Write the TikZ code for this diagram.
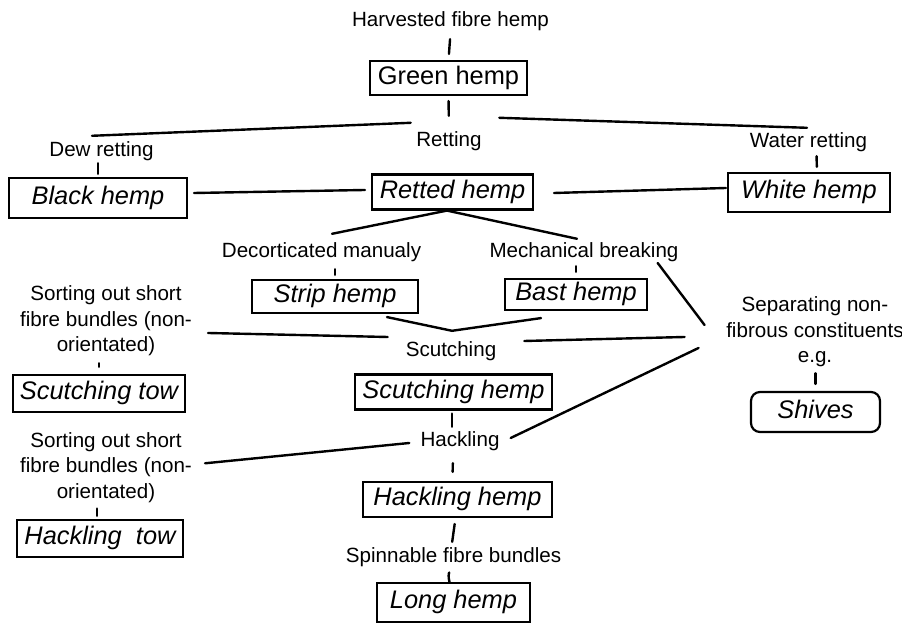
\documentclass[tikz,border=0pt]{standalone}
\usepackage{fontspec}
\setmainfont{Liberation Sans}
\begin{document}
\begin{tikzpicture}[x=0.5pt,y=-0.5pt, line width=1.2pt, line cap=round,
  lab/.style={inner sep=0pt, font=\fontsize{10.3pt}{12.75pt}\selectfont, text height=7.5pt, text depth=2.5pt, anchor=base},
  mlab/.style={inner sep=0pt, font=\fontsize{10.3pt}{12.75pt}\selectfont, align=center},
  hbox/.style={draw, line width=1.1pt, inner sep=0pt, font=\fontsize{12.7pt}{15pt}\selectfont\itshape, text height=9pt, text depth=2.5pt}]
\useasboundingbox (0,0) rectangle (902,624);
% labels
\node[lab] (harv) at (450.5,27) {Harvested fibre hemp};
\node[lab] (retting) at (449,147) {Retting};
\node[lab] (dew) at (101.5,157) {Dew retting};
\node[lab] (water) at (808.5,148) {Water retting};
\node[lab] (decort) at (321.5,258) {Decorticated manualy};
\node[lab] (mech) at (584,258) {Mechanical breaking};
\node[lab] (scutching) at (451,357) {Scutching};
\node[mlab] (sort1) at (106,321) {Sorting out short\\fibre bundles (non-\\orientated)};
\node[mlab] (sep) at (815,332) {Separating non-\\fibrous constituents\\e.g.};
\node[lab] (hackling) at (460,447) {Hackling};
\node[mlab] (sort2) at (106,467.3) {Sorting out short\\fibre bundles (non-\\orientated)};
\node[lab] (spin) at (453.5,563) {Spinnable fibre bundles};
% boxes
\node[hbox, font=\fontsize{12.7pt}{15pt}\selectfont, minimum width=78.5pt, minimum height=17pt] (green) at (448.5,78) {Green hemp};
\node[hbox, minimum width=89pt, minimum height=20pt] (black) at (98,198) {Black hemp};
\node[hbox, minimum width=80.5pt, minimum height=17.5pt] (retted) at (452.5,192) {Retted hemp};
\node[hbox, minimum width=81pt, minimum height=19.5pt] (white) at (809,192.5) {White hemp};
\node[hbox, minimum width=83pt, minimum height=16.5pt] (strip) at (335,296.5) {Strip hemp};
\node[hbox, minimum width=71pt, minimum height=15.5pt] (bast) at (576,294.5) {Bast hemp};
\node[hbox, minimum width=86pt, minimum height=18.5pt] (stow) at (99,393.5) {Scutching tow};
\node[hbox, minimum width=98.5pt, minimum height=17.5pt] (shemp) at (453.5,392) {Scutching hemp};
\node[hbox, rounded corners=4.5pt, minimum width=64.5pt, minimum height=20pt] (shives) at (815.5,412) {Shives};
\node[hbox, minimum width=94.5pt, minimum height=17.5pt] (hhemp) at (457.5,499.5) {Hackling hemp};
\node[hbox, minimum width=83pt, minimum height=18.5pt] (htow) at (100,538.5) {Hackling\ \ tow};
\node[hbox, minimum width=76.5pt, minimum height=19.5pt] (long) at (453.5,602.5) {Long hemp};
% ticks
\draw[shorten <=3pt, shorten >=3pt] (harv.south) -- (green.north);
\draw[shorten <=2.5pt, shorten >=7.5pt] (green.south) -- (retting.north);
\draw[shorten >=1.5pt] (dew.south -| black.north) -- (black.north);
\draw[shorten <=1pt, shorten >=2.5pt] ([xshift=4pt]water.south) -- ([xshift=4pt]white.north);
\draw[shorten <=2.5pt, shorten >=2pt] (decort.south -| strip.north) -- (strip.north);
\draw[shorten <=1pt, shorten >=3pt] (mech.south -| bast.north) -- (bast.north);
\draw[shorten <=3pt, shorten >=3.5pt] (sort1.south -| stow.north) -- (stow.north);
\draw[shorten <=2.5pt, shorten >=3.5pt] (sep.south -| shives.north) -- (shives.north);
\draw[shorten <=1.5pt, shorten >=2pt] ([xshift=-0.75pt]shemp.south) -- ([xshift=-0.75pt]shemp.south |- hackling.north);
\draw[shorten <=5pt, shorten >=4.5pt] ([xshift=-3.5pt]hackling.south) -- ([xshift=-2.5pt]hhemp.north);
\draw[shorten <=3pt, shorten >=2.5pt] ([xshift=-1pt]hhemp.south) -- ([xshift=-1pt]spin.north);
\draw[shorten <=2pt] ([xshift=-1pt]spin.south) to[bend right=25] ([xshift=-2pt]long.north);
\draw[shorten <=2.5pt, shorten >=1.5pt] ([xshift=-1.5pt]sort2.south -| htow.north) -- ([xshift=-1.5pt]htow.north);
% connectors
\draw ([shift={(-9.5,-5)}]dew.north) -- ([shift={(-4.5,-8)}]retting.north west);
\draw ([shift={(16.5,-13)}]retting.north east) -- ([shift={(-1.5,-4)}]water.north);
\draw ([shift={(6,-5)}]black.east) -- ([shift={(-6,-2)}]retted.west);
\draw ([shift={(20,1)}]retted.east) -- ([shift={(-1,-4.5)}]white.west);
\coordinate (rj) at ([shift={(-5.5,0)}]retted.south);
\draw (rj) -- ([shift={(10.5,-8)}]decort.north);
\draw (rj) -- ([shift={(-7,-3)}]mech.north);
\coordinate (sj) at ([shift={(1,-10)}]scutching.north);
\draw ([shift={(52,3)}]strip.south) -- (sj) -- ([shift={(-35,7)}]bast.south);
\draw ([shift={(15,12)}]sort1.east) -- ([shift={(-17,-15)}]scutching.west);
\draw ([shift={(27,-11)}]scutching.east) -- ([shift={(-40.5,5)}]sep.west);
\draw ([shift={(-22,10)}]mech.east) -- ([shift={(-20.5,-7)}]sep.west);
\draw ([shift={(10,-4)}]hackling.east) -- ([shift={(-26.5,16)}]sep.west);
\draw ([shift={(-10,1)}]hackling.west) -- ([shift={(12,-4)}]sort2.east);
\end{tikzpicture}
\end{document}
